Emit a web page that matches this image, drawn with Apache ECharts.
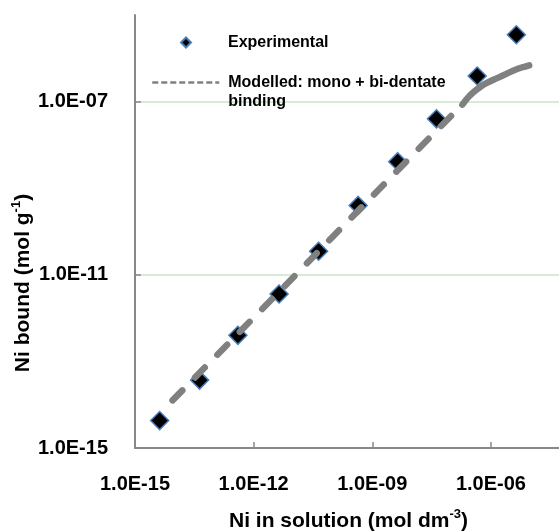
<!DOCTYPE html>
<html><head><meta charset="utf-8">
<script src="https://cdn.jsdelivr.net/npm/echarts@6/dist/echarts.min.js"></script>
<style>html,body{margin:0;padding:0;background:#fff}#c{width:559px;height:531px}</style>
</head><body><div id="c"></div>
<script>
// Experimental points (Ni in solution, Ni bound)
const expX = [4.2e-15, 4.3e-14, 4.0e-13, 4.4e-12, 4.4e-11, 4.4e-10, 4.4e-9, 4.2e-8, 4.5e-7, 4.4e-6];
const expY = [4.3e-15, 3.7e-14, 4.0e-13, 3.6e-12, 3.5e-11, 4.0e-10, 4.1e-9, 4.0e-8, 3.9e-7, 3.5e-6];
// Modelled curve
const modelX = [8.9e-15, 1e-13, 1e-12, 1e-11, 1e-10, 1e-9, 1e-8, 5.0e-8, 1.9e-7,
                2.8e-7, 4.0e-7, 5.6e-7, 7.9e-7, 1.26e-6, 2.0e-6, 3.5e-6, 6.3e-6, 9.3e-6];
const modelY = [1.26e-14, 1.2e-13, 1.02e-12, 8.7e-12, 7.6e-11, 6.5e-10, 5.6e-9, 2.5e-8, 8.5e-8,
                1.32e-7, 1.78e-7, 2.24e-7, 2.7e-7, 3.3e-7, 4.0e-7, 5.1e-7, 6.2e-7, 6.9e-7];
const xTickLabels = ['1.0E-15', '1.0E-12', '1.0E-09', '1.0E-06'];
const yTickLabels = ['1.0E-15', '1.0E-11', '1.0E-07'];
const expName = 'Experimental';
const modelName = 'Modelled: mono + bi-dentate binding';

const FONT = "'Liberation Sans', Arial, sans-serif";
const SOLID_FROM_X = 1.9e-7; // dense part of the curve renders solid
const expData = expX.map((x, i) => [x, expY[i]]);
const modelPts = modelX.map((x, i) => [x, modelY[i]]);
const dashedData = modelPts.filter(p => p[0] <= SOLID_FROM_X);
const solidData = modelPts.filter(p => p[0] >= SOLID_FROM_X);

function fmtExp(v) {
  const e = Math.round(Math.log10(v));
  const a = Math.abs(e);
  return '1.0E' + (e < 0 ? '-' : '+') + (a < 10 ? '0' : '') + a;
}

const chart = echarts.init(document.getElementById('c'), null, {renderer: 'canvas'});
const lineCol = '#808080';
chart.setOption({
  animation: false,
  backgroundColor: '#ffffff',
  textStyle: {fontFamily: FONT},
  grid: {left: 135, top: 15, bottom: 83, right: -11, outerBoundsMode: 'none', containLabel: false},
  legend: [
    {
      data: [{name: expName, icon: 'diamond'}], left: 180, top: 33, padding: 0, orient: 'vertical',
      itemWidth: 10, itemHeight: 10, selectedMode: false,
      textStyle: {fontFamily: FONT, fontWeight: 'bold', fontSize: 16, color: '#000', lineHeight: 19, padding: [0, 0, 0, 32]}
    },
    {
      data: [{
        name: modelName,
        lineStyle: {width: 2.5, type: [6, 3], cap: 'butt', color: lineCol},
        itemStyle: {color: 'rgba(0,0,0,0)', borderColor: 'rgba(0,0,0,0)', borderWidth: 0, opacity: 0}
      }],
      left: 151, top: 54, padding: 0, orient: 'vertical',
      itemWidth: 67, itemHeight: 10, selectedMode: false,
      formatter: n => '\n' + n.replace(' binding', '\nbinding'),
      textStyle: {fontFamily: FONT, fontWeight: 'bold', fontSize: 16, color: '#000', lineHeight: 19, padding: [0, 0, 0, 4]}
    }
  ],
  xAxis: {
    type: 'log', logBase: 10, min: 1e-15, max: 1e-4, interval: 3,
    name: 'Ni in solution (mol dm{sup|-3})',
    nameLocation: 'middle', nameGap: 60, nameMoveOverlap: false,
    nameTextStyle: {
      padding: [0, 8, 0, 0],
      rich: {
        sup: {fontFamily: FONT, fontWeight: 'bold', fontSize: 13, color: '#000', verticalAlign: 'top', lineHeight: 18}
      },
      fontFamily: FONT, fontWeight: 'bold', fontSize: 21, color: '#000', lineHeight: 26
    },
    axisLine: {show: true, lineStyle: {color: '#888888', width: 2}},
    axisTick: {show: true, inside: true, length: 6, lineStyle: {color: '#888888', width: 1.5}},
    axisLabel: {
      margin: 26, fontFamily: FONT, fontWeight: 'bold', fontSize: 20, color: '#000',
      showMaxLabel: false,
      formatter: v => { const s = fmtExp(v); return xTickLabels.includes(s) ? s : ''; }
    },
    splitLine: {show: false},
    minorTick: {show: false}
  },
  yAxis: {
    type: 'log', logBase: 10, min: 1e-15, max: 1e-5, interval: 4,
    name: 'Ni bound (mol g{sup|-1})',
    nameLocation: 'middle', nameGap: 99, nameRotate: 90, nameMoveOverlap: false,
    nameTextStyle: {
      padding: [0, 103, 0, 0],
      rich: {
        sup: {fontFamily: FONT, fontWeight: 'bold', fontSize: 13, color: '#000', verticalAlign: 'top', lineHeight: 18}
      },
      fontFamily: FONT, fontWeight: 'bold', fontSize: 21, color: '#000', lineHeight: 26
    },
    axisLine: {show: true, lineStyle: {color: '#888888', width: 2}},
    axisTick: {show: true, inside: true, length: 6, lineStyle: {color: '#888888', width: 1.5}},
    axisLabel: {
      margin: 27, fontFamily: FONT, fontWeight: 'bold', fontSize: 20, color: '#000',
      showMaxLabel: false,
      formatter: v => { const s = fmtExp(v); return yTickLabels.includes(s) ? s : ''; }
    },
    splitLine: {show: true, showMinLine: false, showMaxLine: false, lineStyle: {color: '#c8e6c8', width: 1.5}},
    minorTick: {show: false}
  },
  series: [
    {
      name: expName, type: 'scatter', data: expData, symbol: 'diamond', symbolSize: 18, z: 2,
      itemStyle: {color: '#000000', borderColor: '#4a7ebb', borderWidth: 1.5, opacity: 1}
    },
    {
      name: modelName, type: 'line', data: dashedData, symbol: 'none', showSymbol: false, z: 3,
      itemStyle: {color: lineCol},
      lineStyle: {color: lineCol, width: 6.5, type: [14, 18], cap: 'round', join: 'round'}
    },
    {
      name: modelName + ' (curve)', type: 'line', data: solidData, symbol: 'none', showSymbol: false, z: 3,
      smooth: 0.3, itemStyle: {color: lineCol},
      lineStyle: {color: lineCol, width: 6.5, type: 'solid', cap: 'round', join: 'round'}
    }
  ]
});
</script>
</body></html>
